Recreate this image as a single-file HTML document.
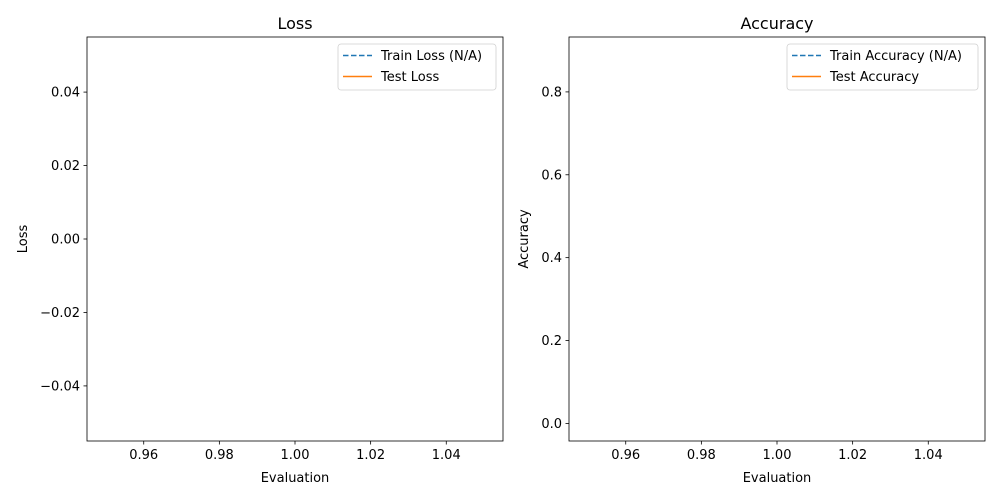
<!DOCTYPE html>
<html><head><meta charset="utf-8"><style>
html,body{margin:0;padding:0;background:#fff}
svg{display:block;font-family:"DejaVu Sans","Liberation Sans",sans-serif}
</style></head><body>
<svg id="fig" width="1000" height="500" xmlns="http://www.w3.org/2000/svg"></svg>
<script>
const lossXTicks = [0.96, 0.98, 1.00, 1.02, 1.04];
const lossYTicks = [-0.04, -0.02, 0.00, 0.02, 0.04];
const accXTicks = [0.96, 0.98, 1.00, 1.02, 1.04];
const accYTicks = [0.0, 0.2, 0.4, 0.6, 0.8];
const lossYLabels = ["\u22120.04", "\u22120.02", "0.00", "0.02", "0.04"];
const accYLabels = ["0.0", "0.2", "0.4", "0.6", "0.8"];
const xTickLabels = ["0.96", "0.98", "1.00", "1.02", "1.04"];
const xDomain = [0.945, 1.055];
const lossYDomain = [-0.055, 0.055];
const accYDomain = [-0.0425, 0.9325];
const lossLegend = ["Train Loss (N/A)", "Test Loss"];
const accLegend = ["Train Accuracy (N/A)", "Test Accuracy"];

const NS = "http://www.w3.org/2000/svg";
const svg = document.getElementById("fig");
function mk(tag, attrs, parent, text) {
  const e = document.createElementNS(NS, tag);
  for (const k in attrs) e.setAttribute(k, attrs[k]);
  if (text !== undefined) e.textContent = text;
  (parent || svg).appendChild(e);
  return e;
}
function panel(p) {
  const g = mk("g", {});
  
  
  const L = p.x0, R = p.x1, T = 37, B = 441;
  const sx = v => L + (v - xDomain[0]) / (xDomain[1] - xDomain[0]) * (R - L);
  const sy = v => B - (v - p.yd[0]) / (p.yd[1] - p.yd[0]) * (B - T);
  const frame = mk("rect", {x: L, y: T, width: R - L, height: B - T, fill: "none", stroke: "#000", "stroke-width": 0.8}, g);
  
  
  p.xt.forEach((v, i) => {
    const x = sx(v);
    mk("line", {x1: x, x2: x, y1: B, y2: B + 3.5, stroke: "#000", "stroke-width": 0.8}, g);
    const t = mk("text", {x: x, y: B + 18, "text-anchor": "middle", "font-size": 13}, g, xTickLabels[i]);
    
    
  });
  p.yt.forEach((v, i) => {
    const y = sy(v);
    mk("line", {x1: L - 3.5, x2: L, y1: y, y2: y, stroke: "#000", "stroke-width": 0.8}, g);
    const t = mk("text", {x: L - 7, y: y + 4.5, "text-anchor": "end", "font-size": 13}, g, p.yl[i]);
    
    
  });
  const title = mk("text", {x: (L + R) / 2, y: 29, "text-anchor": "middle", "font-size": 16}, g, p.title);
  
  
  const xl = mk("text", {x: (L + R) / 2, y: 482, "text-anchor": "middle", "font-size": 13}, g, "Evaluation");
  
  
  const yl = mk("text", {x: 0, y: 0, "text-anchor": "middle", "font-size": 13, transform: `translate(${p.ylx},239) rotate(-90)`}, g, p.ylabel);
  
  
  // legend
  const lg = mk("g", {}, g);
  
  
  mk("rect", {x: p.lgx, y: 44, width: R - 7 - p.lgx, height: 46, rx: 3, fill: "#fff", stroke: "#d0d0d0", "stroke-width": 0.8}, lg);
  const cols = ["#1f77b4", "#ff7f0e"];
  p.legend.forEach((s, i) => {
    const y = 55.5 + i * 21;
    const ln = mk("line", {x1: p.lgx + 5, x2: p.lgx + 34, y1: y, y2: y, stroke: cols[i], "stroke-width": 1.5, "stroke-dasharray": i === 0 ? "5.5,2.5" : "none"}, lg);
    
    
    const t = mk("text", {x: p.lgx + 43, y: y + 4.5, "font-size": 13}, lg, s);
    
    
  });
}
panel({name: "loss-panel", x0: 87, x1: 503, yd: lossYDomain, xt: lossXTicks, yt: lossYTicks, yl: lossYLabels, title: "Loss", ylabel: "Loss", ylx: 27, lgx: 338, legend: lossLegend});
panel({name: "accuracy-panel", x0: 569, x1: 985, yd: accYDomain, xt: accXTicks, yt: accYTicks, yl: accYLabels, title: "Accuracy", ylabel: "Accuracy", ylx: 528, lgx: 787, legend: accLegend});
</script>
</body></html>
